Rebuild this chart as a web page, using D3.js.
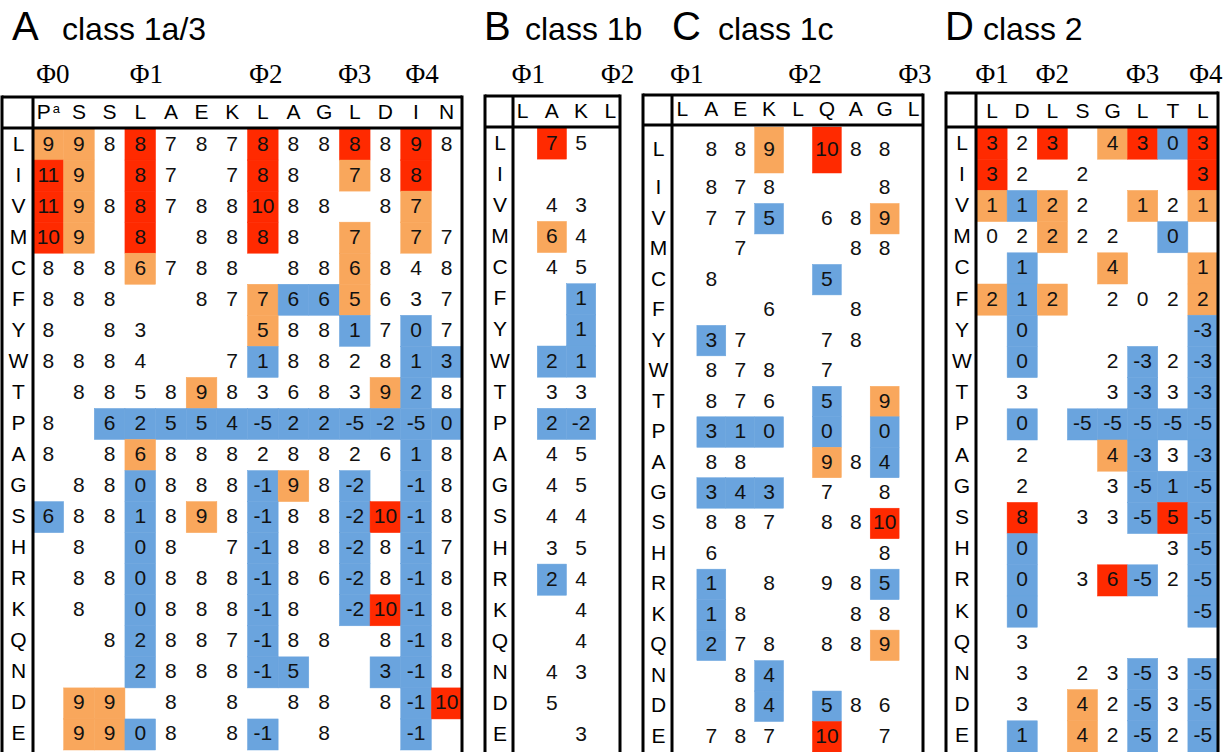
<!DOCTYPE html>
<html>
<head>
<meta charset="utf-8">
<script src="https://cdn.jsdelivr.net/npm/d3@7"></script>
<style>
  body { margin: 0; background: #fff; }
  text { font-family: "Liberation Sans", Arial, Helvetica, sans-serif; }
</style>
</head>
<body>
<svg id="fig" width="1231" height="752"></svg>
<script>
var n = null;

// residue rows, same for every panel
var residues = ["L","I","V","M","C","F","Y","W","T","P","A","G","S","H","R","K","Q","N","D","E"];

// cell classes: r = strong, o = moderate, b = unfavourable, . = none

// A  class 1a/3
var colsA = ["P","S","S","L","A","E","K","L","A","G","L","D","I","N"];
var phiA = [["Φ0",0.15],["Φ1",3.2],["Φ2",7.1],["Φ3",10],["Φ4",12.2]];
var valsA = [
  [9,9,8,8,7,8,7,8,8,8,8,8,9,8],
  [11,9,n,8,7,n,7,8,8,n,7,8,8,n],
  [11,9,8,8,7,8,8,10,8,8,n,8,7,n],
  [10,9,n,8,n,8,8,8,8,n,7,n,7,7],
  [8,8,8,6,7,8,8,n,8,8,6,8,4,8],
  [8,8,8,n,n,8,7,7,6,6,5,6,3,7],
  [8,n,8,3,n,n,n,5,8,8,1,7,0,7],
  [8,8,8,4,n,n,7,1,8,8,2,8,1,3],
  [n,8,8,5,8,9,8,3,6,8,3,9,2,8],
  [8,n,6,2,5,5,4,-5,2,2,-5,-2,-5,0],
  [8,n,8,6,8,8,8,2,8,8,2,6,1,8],
  [n,8,8,0,8,8,8,-1,9,8,-2,n,-1,8],
  [6,8,8,1,8,9,8,-1,8,8,-2,10,-1,8],
  [n,8,n,0,8,n,7,-1,8,8,-2,8,-1,7],
  [n,8,8,0,8,8,8,-1,8,6,-2,8,-1,8],
  [n,8,n,0,8,8,8,-1,8,n,-2,10,-1,8],
  [n,n,8,2,8,8,7,-1,8,8,n,8,-1,8],
  [n,n,n,2,8,8,8,-1,5,n,n,3,-1,8],
  [n,9,9,n,8,n,8,n,8,8,n,8,-1,10],
  [n,9,9,0,8,n,8,-1,n,8,n,n,-1,n]
];
var clsA = [
  "oo.r...r..r.r.",
  "ro.r...r..o.r.",
  "ro.r...r....o.",
  "ro.r...r..o.o.",
  "...o......o...",
  ".......obbo...",
  ".......o..b.b.",
  ".......b....bb",
  ".....o.....ob.",
  "..bbbbbbbbbbbb",
  "...o........b.",
  "...b...bo.b.b.",
  "b..b.o.b..brb.",
  "...b...b..b.b.",
  "...b...b..b.b.",
  "...b...b..brb.",
  "...b...b....b.",
  "...b...bb..bb.",
  ".oo.........br",
  ".oob...b....b."
];

// B  class 1b
var colsB = ["L","A","K","L"];
var phiB = [["Φ1",0.2],["Φ2",3.25]];
var valsB = [
  [n,7,5,n],[n,n,n,n],[n,4,3,n],[n,6,4,n],[n,4,5,n],
  [n,n,1,n],[n,n,1,n],[n,2,1,n],[n,3,3,n],[n,2,-2,n],
  [n,4,5,n],[n,4,5,n],[n,4,4,n],[n,3,5,n],[n,2,4,n],
  [n,n,4,n],[n,n,4,n],[n,4,3,n],[n,5,n,n],[n,n,3,n]
];
var clsB = [
  ".r..","....","....",".o..","....",
  "..b.","..b.",".bb.","....",".bb.",
  "....","....","....","....",".b..",
  "....","....","....","....","...."
];

// C  class 1c
var colsC = ["L","A","E","K","L","Q","A","G","L"];
var phiC = [["Φ1",0.15],["Φ2",4.25],["Φ3",8.05]];
var valsC = [
  [n,8,8,9,n,10,8,8,n],
  [n,8,7,8,n,n,n,8,n],
  [n,7,7,5,n,6,8,9,n],
  [n,n,7,n,n,n,8,8,n],
  [n,8,n,n,n,5,n,n,n],
  [n,n,n,6,n,n,8,n,n],
  [n,3,7,n,n,7,8,n,n],
  [n,8,7,8,n,7,n,n,n],
  [n,8,7,6,n,5,n,9,n],
  [n,3,1,0,n,0,n,0,n],
  [n,8,8,n,n,9,8,4,n],
  [n,3,4,3,n,7,n,8,n],
  [n,8,8,7,n,8,8,10,n],
  [n,6,n,n,n,n,n,8,n],
  [n,1,n,8,n,9,8,5,n],
  [n,1,8,n,n,n,8,8,n],
  [n,2,7,8,n,8,8,9,n],
  [n,n,8,4,n,n,n,n,n],
  [n,n,8,4,n,5,8,6,n],
  [n,7,8,7,n,10,n,7,n]
];
var clsC = [
  "...o.r...",
  ".........",
  "...b...o.",
  ".........",
  ".....b...",
  ".........",
  ".b.......",
  ".........",
  ".....b.o.",
  ".bbb.b.b.",
  ".....o.b.",
  ".bbb.....",
  ".......r.",
  ".........",
  ".b.....b.",
  ".b.......",
  ".b.....o.",
  "...b.....",
  "...b.b...",
  ".....r..."
];

// D  class 2
var colsD = ["L","D","L","S","G","L","T","L"];
var phiD = [["Φ1",0],["Φ2",2],["Φ3",5],["Φ4",7.1]];
var valsD = [
  [3,2,3,n,4,3,0,3],
  [3,2,n,2,n,n,n,3],
  [1,1,2,2,n,1,2,1],
  [0,2,2,2,2,n,0,n],
  [n,1,n,n,4,n,n,1],
  [2,1,2,n,2,0,2,2],
  [n,0,n,n,n,n,n,-3],
  [n,0,n,n,2,-3,2,-3],
  [n,3,n,n,3,-3,3,-3],
  [n,0,n,-5,-5,-5,-5,-5],
  [n,2,n,n,4,-3,3,-3],
  [n,2,n,n,3,-5,1,-5],
  [n,8,n,3,3,-5,5,-5],
  [n,0,n,n,n,n,3,-5],
  [n,0,n,3,6,-5,2,-5],
  [n,0,n,n,n,n,n,-5],
  [n,3,n,n,n,n,n,n],
  [n,3,n,2,3,-5,3,-5],
  [n,3,n,4,2,-5,3,-5],
  [n,1,n,4,2,-5,2,-5]
];
var clsD = [
  "r.r.orbr",
  "r......r",
  "obo..o.o",
  "..o...b.",
  ".b..o..o",
  "obo....o",
  ".b.....b",
  ".b...b.b",
  ".....b.b",
  ".b.bbbbb",
  "....ob.b",
  ".....bbb",
  ".r...brb",
  ".b.....b",
  ".b..rb.b",
  ".b.....b",
  "........",
  ".....b.b",
  "...o.b.b",
  ".b.o.b.b"
];

var fillFor = { r: "#ff2a00", o: "#f9a75c", b: "#6aa4de" };

var panels = [
  { letter: "A", title: "class 1a/3", cols: colsA, vals: valsA, cls: clsA, phi: phiA,
    left: 2, sep: 33, right: 462, colRange: [33, 462], hTop: 97, hBot: 128,
    top: 129, firstH: 31.05, bottom: 750, letterX: 12, titleX: 62 },
  { letter: "B", title: "class 1b", cols: colsB, vals: valsB, cls: clsB, phi: phiB,
    left: 485, sep: 513, right: 620, colRange: [508, 625], hTop: 96, hBot: 127,
    top: 128, firstH: 31.1, bottom: 751, letterX: 484, titleX: 525 },
  { letter: "C", title: "class 1c", cols: colsC, vals: valsC, cls: clsC, phi: phiC,
    left: 643, sep: 672, right: 923, colRange: [668, 928], hTop: 95, hBot: 125,
    top: 127, firstH: 46, bottom: 752, letterX: 672, titleX: 718 },
  { letter: "D", title: "class 2", cols: colsD, vals: valsD, cls: clsD, phi: phiD,
    left: 946, sep: 976, right: 1218, colRange: [977, 1218], hTop: 93, hBot: 127,
    top: 128, firstH: 31.2, bottom: 752, letterX: 945, titleX: 983 }
];

var svg = d3.select("#fig");

panels.forEach(function(p) {
  var g = svg.append("g");

  var x = d3.scaleBand()
    .domain(d3.range(p.cols.length))
    .range(p.colRange);

  // first row may be taller (panel C), the rest share a band scale
  var yRest = d3.scaleBand()
    .domain(residues.slice(1))
    .range([p.top + p.firstH, p.bottom]);
  function rowTop(r) { return r === residues[0] ? p.top : yRest(r); }
  function rowH(r) { return r === residues[0] ? p.firstH : yRest.bandwidth(); }

  var cells = [];
  residues.forEach(function(r, i) {
    p.cols.forEach(function(c, j) {
      cells.push({ row: r, col: j, v: p.vals[i][j], k: p.cls[i].charAt(j) });
    });
  });

  g.selectAll("rect.cell")
    .data(cells.filter(function(d) { return d.k !== "."; }))
    .enter().append("rect")
    .attr("class", "cell")
    .attr("x", function(d) { return x(d.col); })
    .attr("y", function(d) { return rowTop(d.row); })
    .attr("width", x.bandwidth())
    .attr("height", function(d) { return rowH(d.row); })
    .attr("fill", function(d) { return fillFor[d.k]; })
    .attr("stroke", function(d) { return fillFor[d.k]; })
    .attr("stroke-width", 0.5);

  g.selectAll("text.val")
    .data(cells.filter(function(d) { return d.v !== null; }))
    .enter().append("text")
    .attr("class", "val")
    .attr("x", function(d) { return x(d.col) + x.bandwidth() / 2; })
    .attr("y", function(d) { return rowTop(d.row) + rowH(d.row) / 2 + 6; })
    .attr("text-anchor", "middle")
    .attr("font-size", 21)
    .attr("fill", "#111")
    .text(function(d) { return d.v; });

  // row labels
  g.selectAll("text.res")
    .data(residues)
    .enter().append("text")
    .attr("class", "res")
    .attr("x", (p.left + p.sep) / 2 + 1)
    .attr("y", function(r) { return rowTop(r) + rowH(r) / 2 + 6; })
    .attr("text-anchor", "middle")
    .attr("font-size", 21)
    .text(function(r) { return r; });

  // column header letters
  var hdr = g.selectAll("text.hdr")
    .data(p.cols)
    .enter().append("text")
    .attr("class", "hdr")
    .attr("x", function(c, j) { return x(j) + x.bandwidth() / 2; })
    .attr("y", p.hBot - 9)
    .attr("text-anchor", "middle")
    .attr("font-size", 21);
  hdr.append("tspan").text(function(c) { return c; });
  if (p.letter === "A") {
    hdr.filter(function(c, j) { return j === 0; })
      .append("tspan")
      .attr("font-size", 13)
      .attr("dx", 2)
      .attr("dy", -6)
      .text("a");
  }

  // Φ markers
  g.selectAll("text.phi")
    .data(p.phi)
    .enter().append("text")
    .attr("class", "phi")
    .attr("x", function(d) { return x(0) + x.bandwidth() / 2 + d[1] * x.step(); })
    .attr("y", 83)
    .attr("text-anchor", "middle")
    .attr("font-size", 27)
    .style("font-family", "'Liberation Serif', 'Times New Roman', serif")
    .text(function(d) { return d[0]; });

  // panel title
  g.append("text")
    .attr("x", p.letterX).attr("y", 40)
    .attr("font-size", 40)
    .text(p.letter);
  g.append("text")
    .attr("x", p.titleX).attr("y", 40)
    .attr("font-size", 32)
    .text(p.title);

  // table frame
  var frame = [
    [p.left, p.hTop, p.right, p.hTop],
    [p.left, p.hBot, p.right, p.hBot],
    [p.left, p.hTop - 1.5, p.left, 752],
    [p.right, p.hTop - 1.5, p.right, 752],
    [p.sep, p.hTop, p.sep, 752]
  ];
  g.selectAll("line.frame")
    .data(frame)
    .enter().append("line")
    .attr("class", "frame")
    .attr("x1", function(d) { return d[0]; })
    .attr("y1", function(d) { return d[1]; })
    .attr("x2", function(d) { return d[2]; })
    .attr("y2", function(d) { return d[3]; })
    .attr("stroke", "#000")
    .attr("stroke-width", 3);
});
</script>
</body>
</html>
